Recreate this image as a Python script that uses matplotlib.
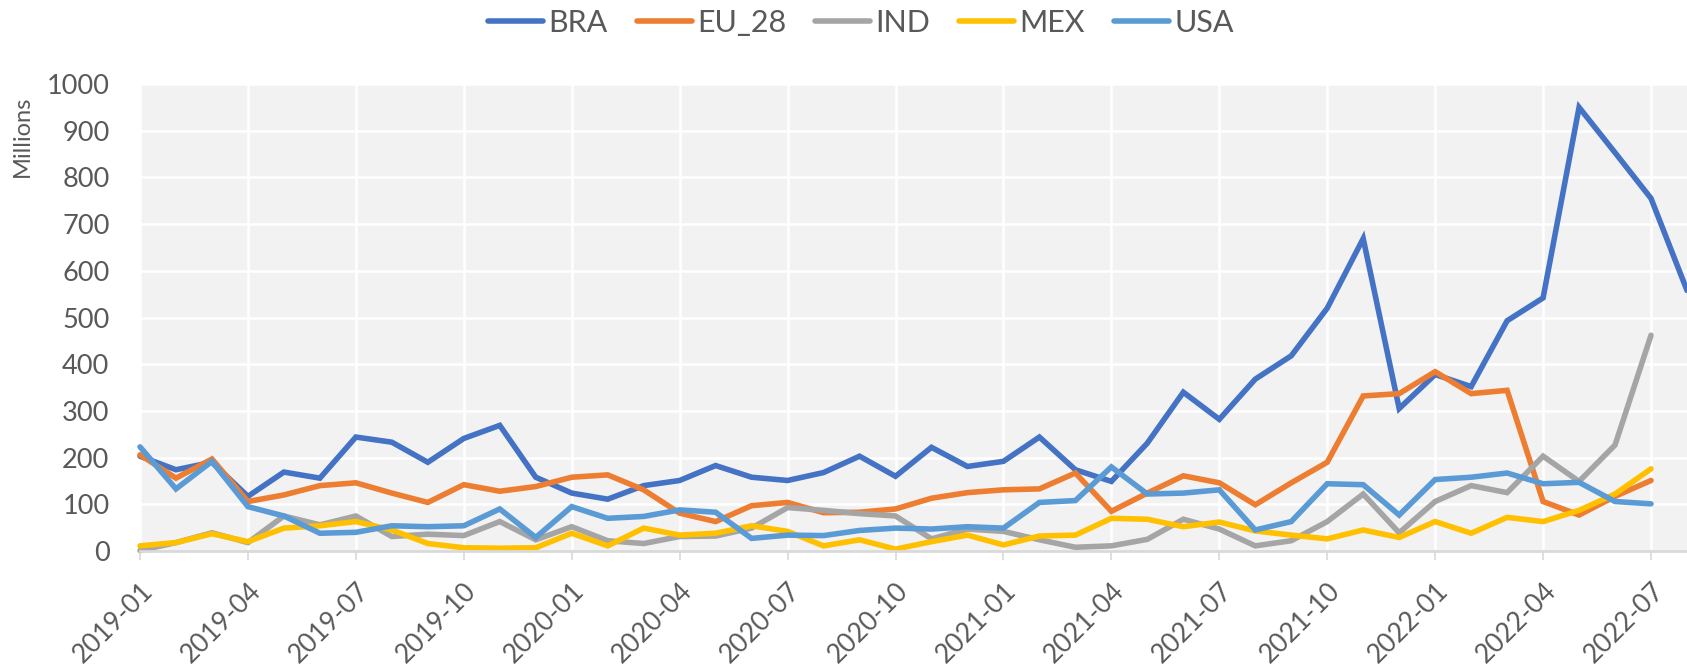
import numpy as np
import matplotlib.pyplot as plt

plt.rcParams['font.family'] = ['Lato', 'DejaVu Sans']

# monthly values in millions, 2019-01 .. 2022-07 (BRA has one more month)
months = ["2019-01", "2019-02", "2019-03", "2019-04", "2019-05", "2019-06", "2019-07", "2019-08",
          "2019-09", "2019-10", "2019-11", "2019-12", "2020-01", "2020-02", "2020-03", "2020-04",
          "2020-05", "2020-06", "2020-07", "2020-08", "2020-09", "2020-10", "2020-11", "2020-12",
          "2021-01", "2021-02", "2021-03", "2021-04", "2021-05", "2021-06", "2021-07", "2021-08",
          "2021-09", "2021-10", "2021-11", "2021-12", "2022-01", "2022-02", "2022-03", "2022-04",
          "2022-05", "2022-06", "2022-07", "2022-08"]

bra = [203, 174, 190, 117, 169, 156, 244, 233, 190, 241, 269, 158,
       124, 111, 140, 151, 183, 158, 151, 168, 203, 160, 222, 181,
       192, 244, 174, 149, 231, 340, 282, 368, 418, 520, 669, 305,
       378, 352, 493, 542, 950, 853, 755, 558]
eu_28 = [206, 156, 197, 106, 120, 140, 146, 124, 104, 142, 128, 138,
         158, 163, 131, 81, 63, 97, 104, 82, 83, 90, 113, 125,
         131, 133, 167, 85, 124, 161, 146, 99, 146, 190, 332, 337,
         384, 337, 344, 106, 77, 117, 151]
ind = [1, 18, 39, 18, 75, 56, 75, 31, 36, 33, 63, 24,
       52, 22, 16, 31, 32, 49, 93, 87, 80, 75, 26, 47,
       42, 24, 8, 11, 25, 68, 47, 11, 22, 63, 122, 39,
       106, 140, 125, 203, 149, 227, 462]
mex = [11, 18, 37, 20, 49, 54, 63, 45, 16, 7, 6, 7,
       38, 11, 49, 34, 38, 54, 42, 11, 24, 4, 20, 34,
       13, 32, 34, 70, 68, 52, 62, 43, 34, 26, 45, 29,
       63, 38, 72, 63, 87, 122, 176]
usa = [223, 133, 192, 95, 75, 38, 40, 54, 52, 54, 90, 29,
       95, 70, 74, 88, 83, 27, 34, 33, 44, 49, 47, 52,
       49, 104, 108, 180, 122, 124, 131, 45, 63, 144, 142, 77,
       153, 158, 167, 144, 147, 106, 101]

series = [("BRA", bra, "#4472C4"), ("EU_28", eu_28, "#ED7D31"), ("IND", ind, "#A5A5A5"),
          ("MEX", mex, "#FFC000"), ("USA", usa, "#5B9BD5")]

W, H = 1687, 670
fig = plt.figure(figsize=(W / 100, H / 100), dpi=100)
ax = fig.add_axes([140 / W, (H - 551) / H, (W - 140) / W, (551 - 84) / H])
ax.set_facecolor("#F2F2F2")

for name, vals, col in series:
    ax.plot(np.arange(len(vals)), vals, color=col, lw=4.0, label=name,
            solid_joinstyle="miter", solid_capstyle="round", clip_on=False)

ax.set_xlim(0, len(months) - 1)
ax.set_ylim(0, 1000)
ax.set_yticks(np.arange(0, 1001, 100))
ticks = np.arange(0, len(months), 3)
ax.set_xticks(ticks)
ax.set_xticklabels([months[i] for i in ticks], rotation=45, ha="right", va="top",
                   rotation_mode="anchor")
ax.grid(True, color="white", lw=1.8)
ax.set_axisbelow(True)
for s in ["top", "right", "left"]:
    ax.spines[s].set_visible(False)
ax.spines["bottom"].set_color("#D9D9D9")
ax.spines["bottom"].set_linewidth(2)
ax.tick_params(axis="x", colors="#595959", labelsize=19, length=6.5, width=1.2, color="#D9D9D9", pad=13)
ax.tick_params(axis="y", colors="#595959", labelsize=19.5, length=0, pad=22)

fig.text(22 / W, 1 - 136 / H, "Millions", rotation=90, ha="center", va="center",
         fontsize=17, color="#595959")

leg = fig.legend(loc="center", bbox_to_anchor=(861 / W, 1 - 23 / H), ncol=5, frameon=False,
                 fontsize=22, handlelength=1.8, handletextpad=0.17, columnspacing=0.95)
for line in leg.get_lines():
    line.set_linewidth(4.0)
for t in leg.get_texts():
    t.set_color("#595959")

fig.savefig("out.png", dpi=100, facecolor="white")
